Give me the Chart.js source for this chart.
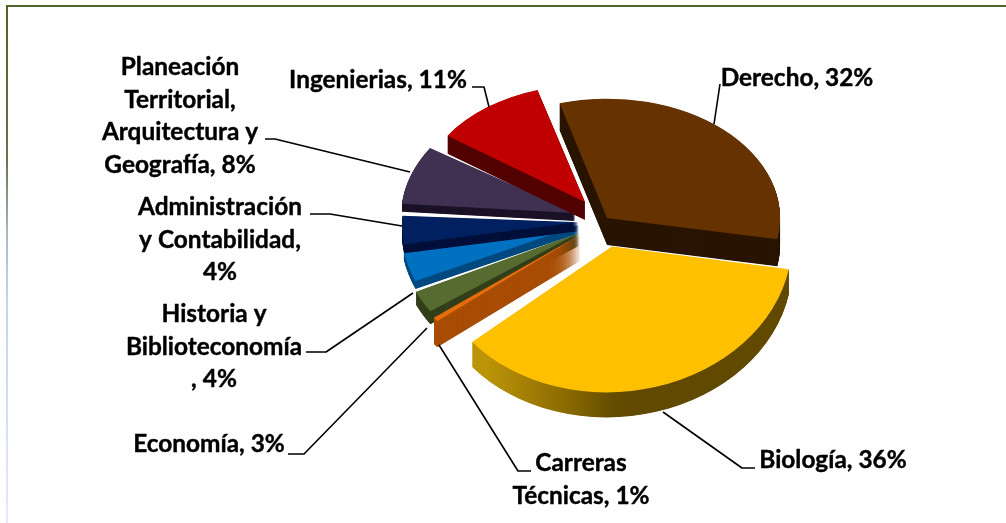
<!DOCTYPE html>
<html><head><meta charset="utf-8">
<style>
html,body{margin:0;padding:0;background:#fff;width:1006px;height:523px;overflow:hidden}
#wrap{position:relative;width:1006px;height:523px}
#top{position:absolute;left:6px;top:5px;width:1000px;height:2px;background:#4F6228}
#left{position:absolute;left:6px;top:5px;width:2px;height:518px;background:linear-gradient(#4F6228 0%,#63774a 30%,#aab9c0 44%,#c3d2ee 56%,#d0dcf0 75%,#e3ecf8 100%)}
canvas{position:absolute;left:0;top:0}
</style></head><body>
<div id="wrap"><canvas id="c" width="1006" height="523"></canvas><div id="top"></div><div id="left"></div></div>
<script src="https://cdn.jsdelivr.net/npm/chart.js@4"></script>
<script>
const categories = ["Derecho","Biología","Carreras Técnicas","Economía","Historia y Biblioteconomía","Administración y Contabilidad","Planeación Territorial, Arquitectura y Geografía","Ingenierias"];
const values = [32,36,1,3,4,4,8,11];
const topColors = ["#663300","#FFC000","#E46C0A","#556B2F","#0070C0","#002060","#403152","#C00000"];
const wallColors = ["#2A1500",null,"#A84D05","#333F1A","#004A80","#00103A","#1C1228","#540000"];
const explode = [15,26,20,20,20,20,20,28];
const offsets = explode.map(e=>e*4); // Chart.js moves an arc by a quarter of its offset
// per-slice pose of the tilted pie: radius, vertical squash, skew, nudge, wall depth
const radii = [173,180,182,180,178,176,174,167];
const squash = [0.69,0.81,0.78,0.775,0.77,0.72,0.70,0.70];
const skews = [0,-0.025,0,0,-0.009,-0.0137,-0.014,0];
const nudgeX = [-1,7.6,-1,-1.5,0,0,-4,3.5];
const nudgeY = [0.7,1.3,0,0,-4.5,-3.5,-7.6,-7.2];
const depth = [27,25,26,13,8,9,8,18];
const drawOrder = [1,3,2,4,5,6,7,0];
const labelLines = [
 {lines:["Derecho, 32%"],x:797,y:78},
 {lines:["Biología, 36%"],x:833,y:460},
 {lines:["Carreras","Técnicas, 1%"],x:581,y:463},
 {lines:["Economía, 3%"],x:209,y:444},
 {lines:["Historia y","Biblioteconomía",", 4%"],x:214,y:314},
 {lines:["Administración","y Contabilidad,","4%"],x:220,y:207},
 {lines:["Planeación","Territorial,","Arquitectura y","Geografía, 8%"],x:180,y:67},
 {lines:["Ingenierias, 11%"],x:378,y:80}
];
const leaders = [
 [[714,124],[720,84]],
 [[663,412],[742,468],[755,468]],
 [[439,345],[518,471],[531,471]],
 [[427,328],[304,454],[288,454]],
 [[413,293],[326,352],[306,352]],
 [[402,226],[330,214],[310,214]],
 [[410,172],[275,139],[265,139]],
 [[489,107],[484,87],[472,87]]
];
const FONT = '700 24.4px Lato, "Open Sans", sans-serif';
const pie3d = {
  id:'pie3d',
  beforeDatasetsDraw(chart){
    const ctx = chart.ctx, meta = chart.getDatasetMeta(0);
    const cx = (chart.chartArea.left+chart.chartArea.right)/2;
    const cy = (chart.chartArea.top+chart.chartArea.bottom)/2;
    const grad = ctx.createLinearGradient(472,0,620,0);
    grad.addColorStop(0,'#BC9408'); grad.addColorStop(0.55,'#8A6A00'); grad.addColorStop(0.85,'#654D00'); grad.addColorStop(1,'#614A00');
    drawOrder.forEach(i=>{
      const el = meta.data[i];
      const fix = 1-Math.sin(Math.min(Math.PI,el.circumference));
      const fillWith = (c,d)=>{
        ctx.save();
        ctx.translate(cx+nudgeX[i],cy+nudgeY[i]+d);
        ctx.transform(1,skews[i],0,squash[i],0,0);
        ctx.translate(-cx,-cy);
        const o = el.options, prev = o.backgroundColor, prevR = el.outerRadius;
        o.backgroundColor = c; o.borderWidth = 0; o.borderColor = c;
        el.outerRadius = radii[i]-explode[i]*fix;
        el.draw(ctx);
        el.outerRadius = prevR;
        o.backgroundColor = prev;
        ctx.restore();
      };
      for(let d=depth[i];d>=0.5;d-=0.5) fillWith(wallColors[i]||grad,d);
      fillWith(topColors[i],0);
    });
    ctx.save();
    ctx.strokeStyle='#000'; ctx.lineWidth=1.6; ctx.lineJoin='round';
    leaders.forEach(p=>{
      ctx.beginPath(); ctx.moveTo(p[0][0],p[0][1]);
      p.slice(1).forEach(q=>ctx.lineTo(q[0],q[1]));
      ctx.stroke();
    });
    ctx.fillStyle='#000'; ctx.font=FONT; ctx.textAlign='center'; ctx.textBaseline='middle';
    ctx.lineWidth=0.4;
    labelLines.forEach(l=>l.lines.forEach((t,j)=>{
      ctx.fillText(t,l.x,l.y+j*32.8);
      ctx.strokeText(t,l.x,l.y+j*32.8);
    }));
    ctx.restore();
    return false;
  }
};
new Chart(document.getElementById('c'),{
  type:'pie',
  data:{labels:categories,datasets:[{data:values,backgroundColor:topColors,borderWidth:0,offset:offsets}]},
  options:{
    responsive:false,animation:false,rotation:-16,radius:176,
    layout:{padding:{left:190,right:0,top:0,bottom:73}},
    plugins:{legend:{display:false},tooltip:{enabled:false}}
  },
  plugins:[pie3d]
});
</script>
</body></html>
